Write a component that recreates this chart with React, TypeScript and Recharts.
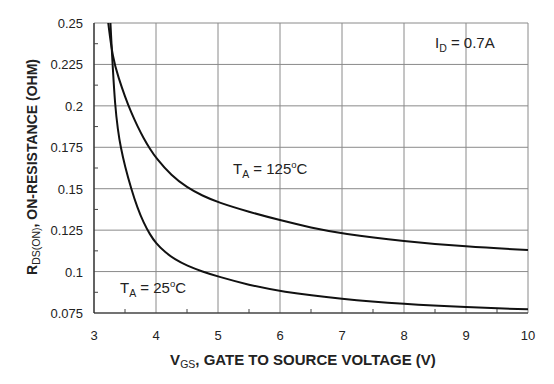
import React from 'react';
import { LineChart, Line, XAxis, YAxis, CartesianGrid } from 'recharts';

// T_A = 25°C curve
const vgs25 = [3.265, 3.29, 3.3, 3.34, 3.385, 3.43, 3.5, 3.6, 3.7, 3.8, 3.9, 4, 4.15, 4.3, 4.5, 4.75, 5, 5.5, 6, 7, 8, 9, 10];
const rds25 = [0.25, 0.232, 0.225, 0.2, 0.1855, 0.175, 0.1635, 0.15, 0.1385, 0.1295, 0.1225, 0.117, 0.1115, 0.1075, 0.1035, 0.1, 0.097, 0.0919, 0.088, 0.0834, 0.0804, 0.0785, 0.0772];

// T_A = 125°C curve
const vgs125 = [3.23, 3.3, 3.4, 3.5, 3.6, 3.7, 3.8, 3.9, 4, 4.25, 4.5, 4.75, 5, 5.5, 6, 6.5, 7, 8, 9, 10];
const rds125 = [0.25, 0.229, 0.2165, 0.2055, 0.196, 0.1878, 0.1805, 0.1742, 0.1686, 0.1578, 0.1508, 0.1457, 0.1418, 0.136, 0.131, 0.1265, 0.1229, 0.1183, 0.115, 0.113];

const xMajorTicks = [3, 4, 5, 6, 7, 8, 9, 10];
const xMinorTicks = [3.5, 4.5, 5.5, 6.5, 7.5, 8.5, 9.5];
const yMajorTicks = [0.075, 0.1, 0.125, 0.15, 0.175, 0.2, 0.225, 0.25];
const yMinorTicks = [0.0875, 0.1125, 0.1375, 0.1625, 0.1875, 0.2125, 0.2375];

const data25 = vgs25.map((v, i) => ({ v, r: rds25[i] }));
const data125 = vgs125.map((v, i) => ({ v, r: rds125[i] }));

const FONT = '"Liberation Sans", Arial, sans-serif';

const YTick = (props: any) => {
  const { x, y, payload } = props;
  if (yMajorTicks.includes(payload.value)) {
    return (
      <text x={x} y={y} dy={5} textAnchor="end" fontSize={13} fill="#222" fontFamily={FONT}>
        {String(payload.value)}
      </text>
    );
  }
  // minor tick, pointing into the plot
  return <line x1={x + 11} x2={x + 15} y1={y} y2={y} stroke="#444" strokeWidth={1} />;
};

const XTick = (props: any) => {
  const { x, y, payload } = props;
  if (xMajorTicks.includes(payload.value)) {
    return (
      <text x={x} y={y} dy={12} textAnchor="middle" fontSize={13} fill="#222" fontFamily={FONT}>
        {String(payload.value)}
      </text>
    );
  }
  return <line x1={x} x2={x} y1={y - 15} y2={y - 19} stroke="#444" strokeWidth={1} />;
};

export default function App() {
  return (
    <div style={{ position: 'absolute', left: 0, top: 0, width: 554, height: 384, background: '#fff' }}>
      <LineChart width={554} height={384} margin={{ top: 23, right: 26, bottom: 0, left: 0 }}>
        <CartesianGrid
          stroke="#8a8a8a"
          strokeWidth={1}
          horizontalValues={yMajorTicks}
          verticalValues={xMajorTicks}
        />
        <XAxis
          type="number"
          dataKey="v"
          domain={[3, 10]}
          ticks={[...xMajorTicks, ...xMinorTicks].sort((a, b) => a - b)}
          interval={0}
          allowDataOverflow
          height={71}
          tickSize={0}
          tickMargin={15}
          tick={<XTick />}
          axisLine={{ stroke: '#222', strokeWidth: 1.2 }}
        />
        <YAxis
          type="number"
          dataKey="r"
          domain={[0.075, 0.25]}
          ticks={[...yMajorTicks, ...yMinorTicks].sort((a, b) => a - b)}
          interval={0}
          allowDataOverflow
          width={94}
          tickSize={0}
          tickMargin={11}
          tick={<YTick />}
          axisLine={{ stroke: '#222', strokeWidth: 1.2 }}
        />
        <Line data={data25} dataKey="r" type="basis" stroke="#111" strokeWidth={2} dot={false} isAnimationActive={false} />
        <Line data={data125} dataKey="r" type="basis" stroke="#111" strokeWidth={2} dot={false} isAnimationActive={false} />
      </LineChart>
      <svg
        width={554}
        height={384}
        style={{ position: 'absolute', left: 0, top: 0, pointerEvents: 'none' }}
        fontFamily={FONT}
      >
        <text x={435} y={48} fontSize={15} fill="#222">
          I<tspan fontSize={10.5} dy={4}>D</tspan>
          <tspan dy={-4}> = 0.7A</tspan>
        </text>
        <text x={233} y={174} fontSize={15} fill="#222">
          T<tspan fontSize={10.5} dy={4}>A</tspan>
          <tspan dy={-4}> = 125</tspan>
          <tspan fontSize={9.5} dy={-6}>o</tspan>
          <tspan dy={6}>C</tspan>
        </text>
        <text x={120} y={293} fontSize={15} fill="#222">
          T<tspan fontSize={10.5} dy={4}>A</tspan>
          <tspan dy={-4}> = 25</tspan>
          <tspan fontSize={9.5} dy={-6}>o</tspan>
          <tspan dy={6}>C</tspan>
        </text>
        <text x={303} y={365} textAnchor="middle" fontSize={15} fontWeight="bold" fill="#222">
          V<tspan fontSize={10.5} fontWeight="normal" dy={3}>GS</tspan>
          <tspan dy={-3}>, GATE TO SOURCE VOLTAGE (V)</tspan>
        </text>
        <text
          x={0}
          y={0}
          transform="translate(37,167) rotate(-90)"
          textAnchor="middle"
          fontSize={14}
          fontWeight="bold"
          fill="#222"
        >
          R<tspan fontSize={10.5} fontWeight="normal" dy={3}>DS(ON)</tspan>
          <tspan dy={-3}>, ON-RESISTANCE (OHM)</tspan>
        </text>
      </svg>
    </div>
  );
}
